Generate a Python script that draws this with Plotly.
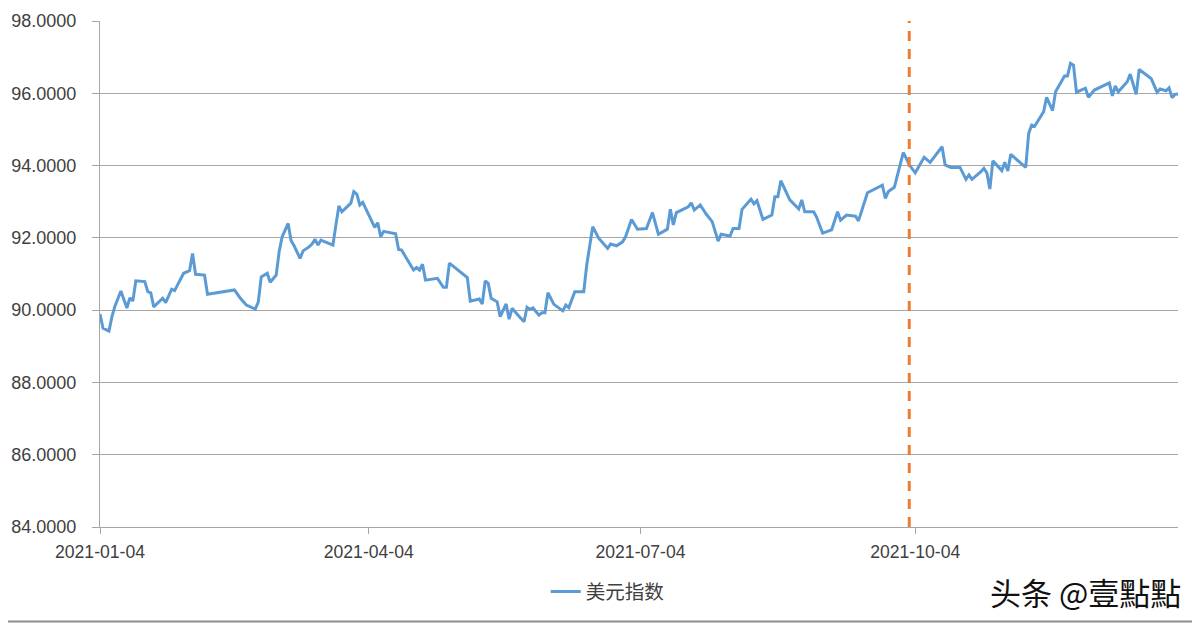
import plotly.graph_objects as go

# ---- data ----
series_name = "美元指数"
dates = [
    "2021-01-04", "2021-01-05", "2021-01-07", "2021-01-08", "2021-01-09", "2021-01-11", "2021-01-13", "2021-01-14",
    "2021-01-15", "2021-01-16", "2021-01-19", "2021-01-20", "2021-01-21", "2021-01-22", "2021-01-25", "2021-01-26",
    "2021-01-28", "2021-01-29", "2021-02-01", "2021-02-03", "2021-02-04", "2021-02-05", "2021-02-08", "2021-02-09",
    "2021-02-18", "2021-02-20", "2021-02-22", "2021-02-23", "2021-02-25", "2021-02-26", "2021-02-27", "2021-03-01",
    "2021-03-02", "2021-03-04", "2021-03-05", "2021-03-06", "2021-03-08", "2021-03-09", "2021-03-10", "2021-03-12",
    "2021-03-13", "2021-03-15", "2021-03-16", "2021-03-17", "2021-03-18", "2021-03-19", "2021-03-23", "2021-03-24",
    "2021-03-25", "2021-03-26", "2021-03-29", "2021-03-30", "2021-03-31", "2021-04-01", "2021-04-02", "2021-04-06",
    "2021-04-07", "2021-04-08", "2021-04-09", "2021-04-13", "2021-04-14", "2021-04-15", "2021-04-19", "2021-04-20",
    "2021-04-21", "2021-04-22", "2021-04-23", "2021-04-27", "2021-04-29", "2021-04-30", "2021-05-01", "2021-05-07",
    "2021-05-08", "2021-05-11", "2021-05-12", "2021-05-13", "2021-05-14", "2021-05-15", "2021-05-17", "2021-05-18",
    "2021-05-20", "2021-05-21", "2021-05-22", "2021-05-24", "2021-05-26", "2021-05-27", "2021-05-28", "2021-05-29",
    "2021-05-31", "2021-06-01", "2021-06-02", "2021-06-03", "2021-06-05", "2021-06-08", "2021-06-09", "2021-06-10",
    "2021-06-12", "2021-06-15", "2021-06-16", "2021-06-18", "2021-06-20", "2021-06-22", "2021-06-23", "2021-06-24",
    "2021-06-25", "2021-06-26", "2021-06-28", "2021-06-29", "2021-07-01", "2021-07-03", "2021-07-06", "2021-07-08",
    "2021-07-10", "2021-07-13", "2021-07-14", "2021-07-15", "2021-07-16", "2021-07-20", "2021-07-21", "2021-07-22",
    "2021-07-24", "2021-07-26", "2021-07-28", "2021-07-30", "2021-07-31", "2021-08-03", "2021-08-04", "2021-08-06",
    "2021-08-07", "2021-08-10", "2021-08-11", "2021-08-12", "2021-08-14", "2021-08-17", "2021-08-18", "2021-08-19",
    "2021-08-20", "2021-08-23", "2021-08-26", "2021-08-27", "2021-08-28", "2021-08-31", "2021-09-01", "2021-09-03",
    "2021-09-06", "2021-09-08", "2021-09-09", "2021-09-11", "2021-09-14", "2021-09-15", "2021-09-18", "2021-09-23",
    "2021-09-24", "2021-09-25", "2021-09-27", "2021-09-28", "2021-09-30", "2021-10-01", "2021-10-02", "2021-10-04",
    "2021-10-07", "2021-10-09", "2021-10-13", "2021-10-14", "2021-10-16", "2021-10-19", "2021-10-21", "2021-10-22",
    "2021-10-23", "2021-10-26", "2021-10-27", "2021-10-28", "2021-10-29", "2021-10-30", "2021-11-02", "2021-11-03",
    "2021-11-04", "2021-11-05", "2021-11-10", "2021-11-11", "2021-11-12", "2021-11-13", "2021-11-16", "2021-11-17",
    "2021-11-19", "2021-11-20", "2021-11-23", "2021-11-24", "2021-11-25", "2021-11-26", "2021-11-27", "2021-11-30",
    "2021-12-01", "2021-12-03", "2021-12-08", "2021-12-09", "2021-12-10", "2021-12-11", "2021-12-14", "2021-12-15",
    "2021-12-17", "2021-12-18", "2021-12-21", "2021-12-22", "2021-12-24", "2021-12-25", "2021-12-27", "2021-12-28",
    "2021-12-29", "2021-12-30", "2021-12-31",
]
values = [
    89.89, 89.50, 89.42, 89.82, 90.11, 90.53, 90.06, 90.34,
    90.25, 90.81, 90.79, 90.51, 90.48, 90.09, 90.33, 90.21,
    90.58, 90.54, 91.02, 91.09, 91.57, 90.99, 90.97, 90.44,
    90.56, 90.33, 90.14, 90.11, 90.03, 90.22, 90.92, 91.02,
    90.77, 90.97, 91.62, 92.03, 92.40, 91.92, 91.78, 91.43,
    91.64, 91.75, 91.83, 91.96, 91.80, 91.94, 91.80, 92.36,
    92.88, 92.72, 92.96, 93.28, 93.21, 92.91, 92.98, 92.29,
    92.42, 92.03, 92.18, 92.11, 91.68, 91.66, 91.11, 91.18,
    91.11, 91.27, 90.83, 90.88, 90.63, 90.63, 91.30, 90.90,
    90.25, 90.31, 90.17, 90.81, 90.74, 90.33, 90.23, 89.82,
    90.17, 89.75, 90.05, 89.86, 89.68, 90.08, 90.02, 90.06,
    89.86, 89.93, 89.93, 90.48, 90.16, 89.98, 90.14, 90.07,
    90.51, 90.51, 91.25, 92.31, 91.99, 91.80, 91.71, 91.83,
    91.80, 91.78, 91.89, 92.03, 92.51, 92.24, 92.26, 92.70,
    92.10, 92.24, 92.79, 92.36, 92.70, 92.86, 92.97, 92.77,
    92.91, 92.66, 92.45, 91.91, 92.10, 92.05, 92.26, 92.26,
    92.79, 93.07, 92.94, 93.03, 92.51, 92.63, 93.14, 93.14,
    93.58, 93.05, 92.80, 93.05, 92.72, 92.72, 92.57, 92.13,
    92.22, 92.72, 92.49, 92.63, 92.60, 92.47, 93.25, 93.46,
    93.09, 93.28, 93.40, 93.74, 94.36, 94.20, 94.02, 93.80,
    94.23, 94.09, 94.52, 94.02, 93.95, 93.95, 93.62, 93.74,
    93.62, 93.83, 93.92, 93.80, 93.35, 94.13, 93.86, 94.09,
    93.85, 94.31, 93.95, 94.89, 95.12, 95.09, 95.49, 95.89,
    95.52, 96.04, 96.48, 96.48, 96.83, 96.78, 96.03, 96.14,
    95.89, 96.09, 96.29, 95.93, 96.20, 96.04, 96.32, 96.53,
    95.97, 96.66, 96.48, 96.41, 96.03, 96.12, 96.07, 96.15,
    95.88, 95.97, 95.98,
]
x_tick_vals = ["2021-01-04", "2021-04-04", "2021-07-04", "2021-10-04"]
x_tick_text = ["2021-01-04", "2021-04-04", "2021-07-04", "2021-10-04"]
x_range = ["2021-01-04", "2021-12-31"]
y_tick_vals = [84, 86, 88, 90, 92, 94, 96, 98]
marker_date = "2021-10-02"
watermark = "头条 @壹點點"

# ---- figure ----
FONT = "Liberation Sans, Arial, sans-serif"
GRID = "#A6A6A6"

fig = go.Figure()
fig.add_trace(go.Scatter(
    x=dates, y=values, mode="lines", name=series_name,
    line=dict(color="#5B9BD5", width=3),
))

fig.add_shape(type="line", xref="x", yref="paper",
              x0=marker_date, x1=marker_date, y0=0, y1=1,
              line=dict(color="#ED7D31", width=3, dash="10px,8px"))

# bottom border line of the chart frame
fig.add_shape(type="line", xref="paper", yref="paper",
              x0=-0.2, x1=1.1, y0=-0.1868, y1=-0.1868,
              line=dict(color="#8C8C8C", width=2))

fig.add_annotation(text=watermark, xref="paper", yref="paper",
                   x=1.005, y=-0.128, xanchor="right", yanchor="middle",
                   showarrow=False,
                   font=dict(family="Noto Sans CJK SC", size=31, color="#111111"))

fig.update_layout(
    width=1200, height=624,
    margin=dict(l=92, r=30, t=13, b=105, autoexpand=False),
    paper_bgcolor="white", plot_bgcolor="white",
    font=dict(family=FONT, size=18, color="#404040"),
    showlegend=True,
    legend=dict(orientation="h", x=0.471, xanchor="center", y=-0.128, yanchor="middle",
                font=dict(family="Noto Sans CJK SC, " + FONT, size=19.5, color="#404040")),
    xaxis=dict(
        type="date", range=x_range, tickvals=x_tick_vals, ticktext=x_tick_text,
        automargin=False,
        showgrid=False, zeroline=False, showline=True, linecolor=GRID, linewidth=1,
        ticks="outside", ticklen=6, tickcolor=GRID, ticklabelstandoff=3,
        tickfont=dict(family=FONT, size=17.6, color="#404040"),
    ),
    yaxis=dict(
        range=[84, 98], tickvals=y_tick_vals, tickformat=".4f",
        automargin=False,
        showgrid=True, gridcolor=GRID, gridwidth=1, zeroline=False,
        showline=True, linecolor=GRID, linewidth=1,
        ticks="outside", ticklen=7, tickcolor=GRID, ticklabelstandoff=12,
        tickfont=dict(family=FONT, size=18, color="#404040"),
    ),
)

fig.write_html("out.html")
